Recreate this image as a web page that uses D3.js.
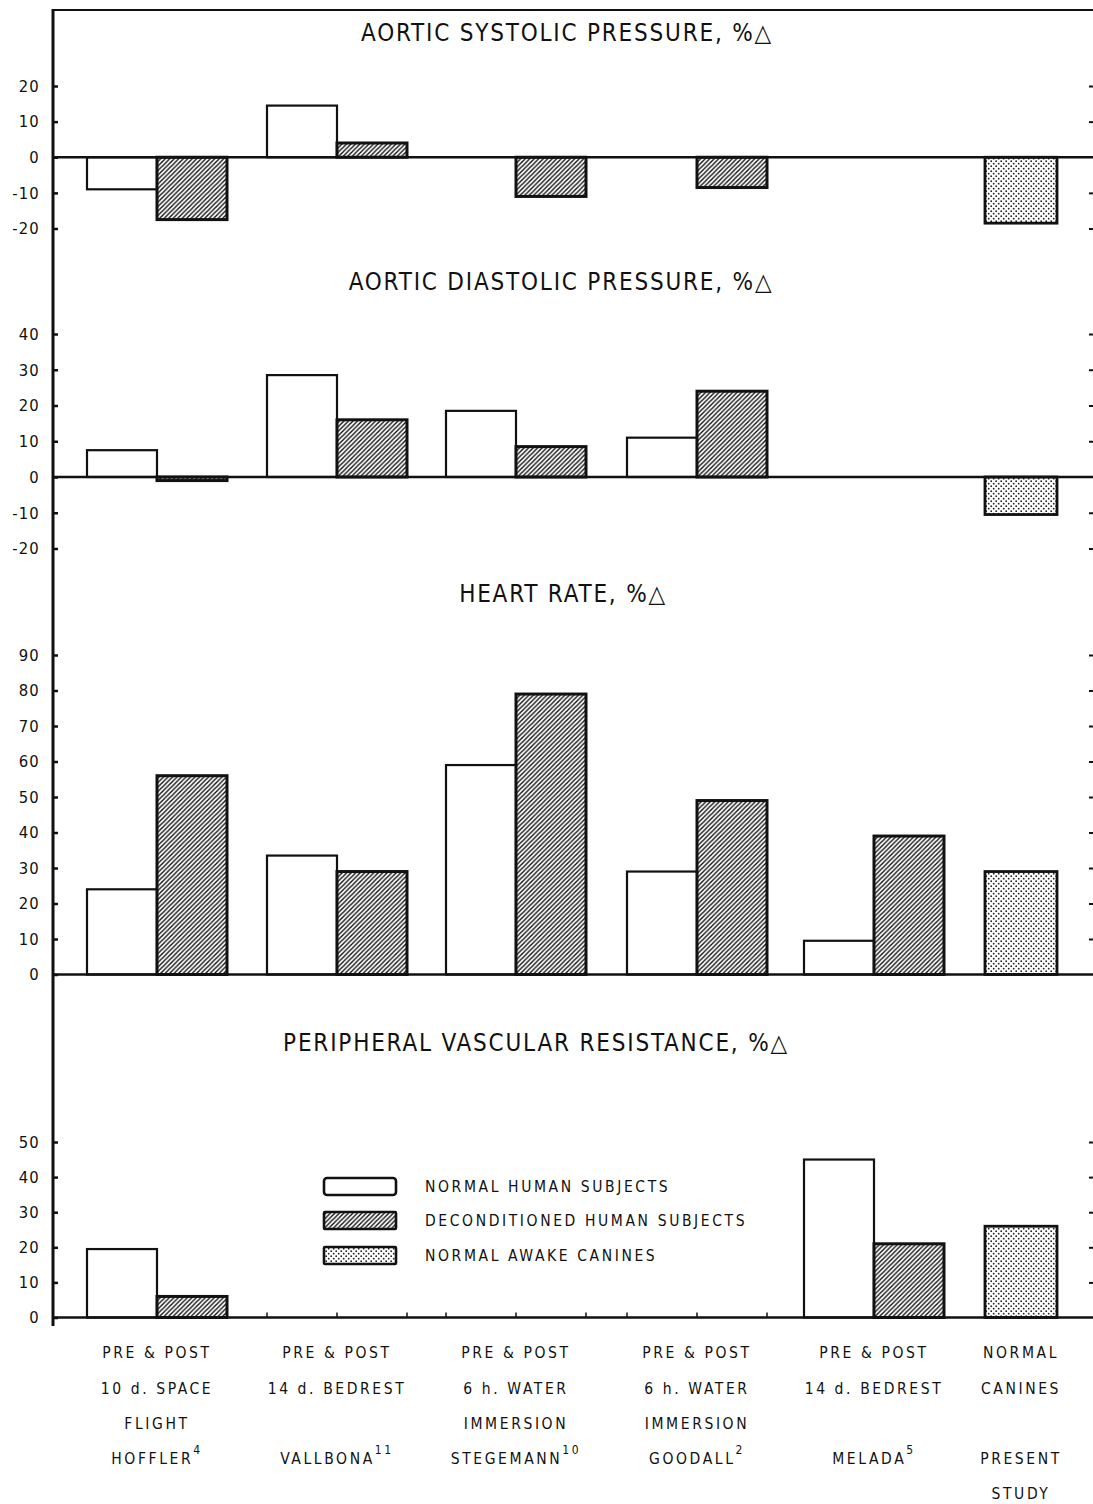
<!DOCTYPE html>
<html><head><meta charset="utf-8">
<script src="https://cdn.jsdelivr.net/npm/d3@7"></script>
<style>
html,body{margin:0;padding:0;background:#fff;}
text{font-family:"DejaVu Sans Condensed","DejaVu Sans",sans-serif;fill:#111;}
</style></head>
<body>
<svg id="c" width="1093" height="1504"></svg>
<script>
// ---------- DATA ----------
const groups = ["HOFFLER", "VALLBONA", "STEGEMANN", "GOODALL", "MELADA", "PRESENT"];
const groupLabels = [
  ["PRE & POST", "10 d. SPACE", "FLIGHT", ["HOFFLER", "4"]],
  ["PRE & POST", "14 d. BEDREST", "", ["VALLBONA", "11"]],
  ["PRE & POST", "6 h. WATER", "IMMERSION", ["STEGEMANN", "10"]],
  ["PRE & POST", "6 h. WATER", "IMMERSION", ["GOODALL", "2"]],
  ["PRE & POST", "14 d. BEDREST", "", ["MELADA", "5"]],
  ["NORMAL", "CANINES", "", ["PRESENT", ""], "STUDY"]
];
const panelTitles = ["AORTIC SYSTOLIC PRESSURE, %\u25B3", "AORTIC DIASTOLIC PRESSURE, %\u25B3",
  "HEART RATE, %\u25B3", "PERIPHERAL VASCULAR RESISTANCE, %\u25B3"];
const legendLabels = ["NORMAL HUMAN SUBJECTS", "DECONDITIONED HUMAN SUBJECTS", "NORMAL AWAKE CANINES"];

const systolicNormal  = [-9, 14.5, 0, 0, null, null];
const systolicDecon   = [-17.5, 4, -11, -8.5, null, null];
const systolicCanine  = [null, null, null, null, null, -18.5];
const diastolicNormal = [7.5, 28.5, 18.5, 11, null, null];
const diastolicDecon  = [-1, 16, 8.5, 24, null, null];
const diastolicCanine = [null, null, null, null, null, -10.5];
const hrNormal        = [24, 33.5, 59, 29, 9.5, null];
const hrDecon         = [56, 29, 79, 49, 39, null];
const hrCanine        = [null, null, null, null, null, 29];
const pvrNormal       = [19.5, null, null, null, 45, null];
const pvrDecon        = [6, null, null, null, 21, null];
const pvrCanine       = [null, null, null, null, null, 26];

const systolicTicks  = [-20, -10, 0, 10, 20];
const diastolicTicks = [-20, -10, 0, 10, 20, 30, 40];
const hrTicks        = [0, 10, 20, 30, 40, 50, 60, 70, 80, 90];
const pvrTicks       = [0, 10, 20, 30, 40, 50];

// ---------- LAYOUT ----------
const svg = d3.select("#c");
const axisX = 53, rightX = 1093, topY = 10;
const groupCenters = [157, 337, 516, 697, 874, 1021];
const xCenter = d3.scaleOrdinal().domain(groups).range(groupCenters);
const sub = d3.scaleBand().domain(["normal", "decon"]).range([-70, 70]).padding(0);
const canineW = 72;

// patterns
const defs = svg.append("defs");
const hp = defs.append("pattern").attr("id", "hatch").attr("patternUnits", "userSpaceOnUse")
  .attr("width", 4.5).attr("height", 4.5);
hp.append("rect").attr("width", 4.5).attr("height", 4.5).attr("fill", "#fff");
hp.append("path").attr("d", "M-1,1 l2,-2 M0,4.5 l4.5,-4.5 M3.5,5.5 l2,-2")
  .attr("stroke", "#111").attr("stroke-width", 1.4);
const dp = defs.append("pattern").attr("id", "dots").attr("patternUnits", "userSpaceOnUse")
  .attr("width", 5).attr("height", 5);
dp.append("rect").attr("width", 5).attr("height", 5).attr("fill", "#fff");
dp.append("circle").attr("cx", 1.2).attr("cy", 1.2).attr("r", 0.9).attr("fill", "#222");
dp.append("circle").attr("cx", 3.7).attr("cy", 3.7).attr("r", 0.9).attr("fill", "#222");

const panels = [
  {title: panelTitles[0], titleX: 567, titleY: 41, domain: [-20, 20], range: [228.5, 86], ticks: systolicTicks,
   normal: systolicNormal, decon: systolicDecon, canine: systolicCanine},
  {title: panelTitles[1], titleX: 561, titleY: 290, domain: [-20, 40], range: [548.5, 334], ticks: diastolicTicks,
   normal: diastolicNormal, decon: diastolicDecon, canine: diastolicCanine},
  {title: panelTitles[2], titleX: 563, titleY: 602, domain: [0, 90], range: [974.5, 655], ticks: hrTicks,
   normal: hrNormal, decon: hrDecon, canine: hrCanine},
  {title: panelTitles[3], titleX: 536, titleY: 1051, domain: [0, 50], range: [1317.5, 1142], ticks: pvrTicks,
   normal: pvrNormal, decon: pvrDecon, canine: pvrCanine}
];

// frame: top line and left axis line
svg.append("line").attr("x1", axisX).attr("x2", rightX).attr("y1", topY).attr("y2", topY)
  .attr("stroke", "#111").attr("stroke-width", 2.2);
svg.append("line").attr("x1", axisX).attr("x2", axisX).attr("y1", topY - 1).attr("y2", 1326)
  .attr("stroke", "#111").attr("stroke-width", 3);

panels.forEach((p, pi) => {
  const y = d3.scaleLinear().domain(p.domain).range(p.range);
  const g = svg.append("g");

  g.append("text").attr("x", p.titleX).attr("y", p.titleY).attr("text-anchor", "middle")
    .attr("font-size", 24).attr("letter-spacing", 1.8).text(p.title);

  // left axis ticks + labels
  const ax = g.append("g").attr("transform", `translate(${axisX},0)`)
    .call(d3.axisLeft(y).tickValues(p.ticks).tickSize(-5).tickPadding(13).tickFormat(d => String(d)));
  ax.select(".domain").remove();
  ax.selectAll(".tick line").attr("stroke", "#111").attr("stroke-width", 2.5);
  ax.selectAll(".tick text").attr("font-size", 16.5).attr("fill", "#111")
    .attr("font-family", "'DejaVu Sans Condensed','DejaVu Sans',sans-serif").attr("letter-spacing", 1.2);

  // right edge tick dashes
  const rx = g.append("g").attr("transform", `translate(${rightX},0)`)
    .call(d3.axisLeft(y).tickValues(p.ticks.filter(t => t !== 0)).tickSize(4).tickFormat(""));
  rx.select(".domain").remove();
  rx.selectAll(".tick line").attr("stroke", "#111").attr("stroke-width", 2);

  const y0 = y(0);
  const rectFor = (sel, v, x0, w, fill, sw) => {
    if (v === null) return;
    sel.append("rect").attr("x", x0).attr("width", w)
      .attr("y", Math.min(y(v), y0)).attr("height", Math.abs(y(v) - y0))
      .attr("fill", fill).attr("stroke", "#111").attr("stroke-width", sw);
  };
  groups.forEach((gr, i) => {
    const c = xCenter(gr);
    rectFor(g, p.normal[i], c + sub("normal"), sub.bandwidth(), "#fff", 2.2);
    rectFor(g, p.decon[i], c + sub("decon"), sub.bandwidth(), "url(#hatch)", 3);
    rectFor(g, p.canine[i], c - canineW / 2, canineW, "url(#dots)", 2.8);
  });

  // zero line
  g.append("line").attr("x1", axisX).attr("x2", rightX).attr("y1", y0).attr("y2", y0)
    .attr("stroke", "#111").attr("stroke-width", 2.6);

  // bottom panel: small ticks where no data
  if (pi === 3) {
    groups.forEach((gr, i) => {
      if (p.normal[i] === null && p.decon[i] === null && p.canine[i] === null) {
        const c = xCenter(gr);
        [c + sub("normal"), c, c + sub("decon") + sub.bandwidth()].forEach(xx => {
          g.append("line").attr("x1", xx).attr("x2", xx).attr("y1", y0).attr("y2", y0 - 5)
            .attr("stroke", "#111").attr("stroke-width", 1.5);
        });
      }
    });
  }
});

// legend
const legY = [1186, 1220, 1255];
const legFills = ["#fff", "url(#hatch)", "url(#dots)"];
legendLabels.forEach((l, i) => {
  svg.append("rect").attr("x", 324).attr("y", legY[i] - 8).attr("width", 72).attr("height", 17)
    .attr("rx", i === 0 ? 3 : 1).attr("fill", legFills[i]).attr("stroke", "#111").attr("stroke-width", 2.6);
  svg.append("text").attr("x", 425).attr("y", legY[i] + 6).attr("font-size", 15.5)
    .attr("letter-spacing", 2.6).text(l);
});

// category labels
const lineY = [1358, 1394, 1429, 1464, 1499];
groups.forEach((gr, i) => {
  const c = xCenter(gr);
  groupLabels[i].forEach((ln, j) => {
    if (ln === "" ) return;
    const t = svg.append("text").attr("x", c).attr("y", lineY[j]).attr("text-anchor", "middle")
      .attr("font-size", 15.5).attr("letter-spacing", 2.6);
    if (Array.isArray(ln)) {
      t.append("tspan").text(ln[0]);
      if (ln[1]) t.append("tspan").attr("dy", -10).attr("font-size", 12).text(ln[1]);
    } else {
      t.text(ln);
    }
  });
});
</script>
</body></html>
